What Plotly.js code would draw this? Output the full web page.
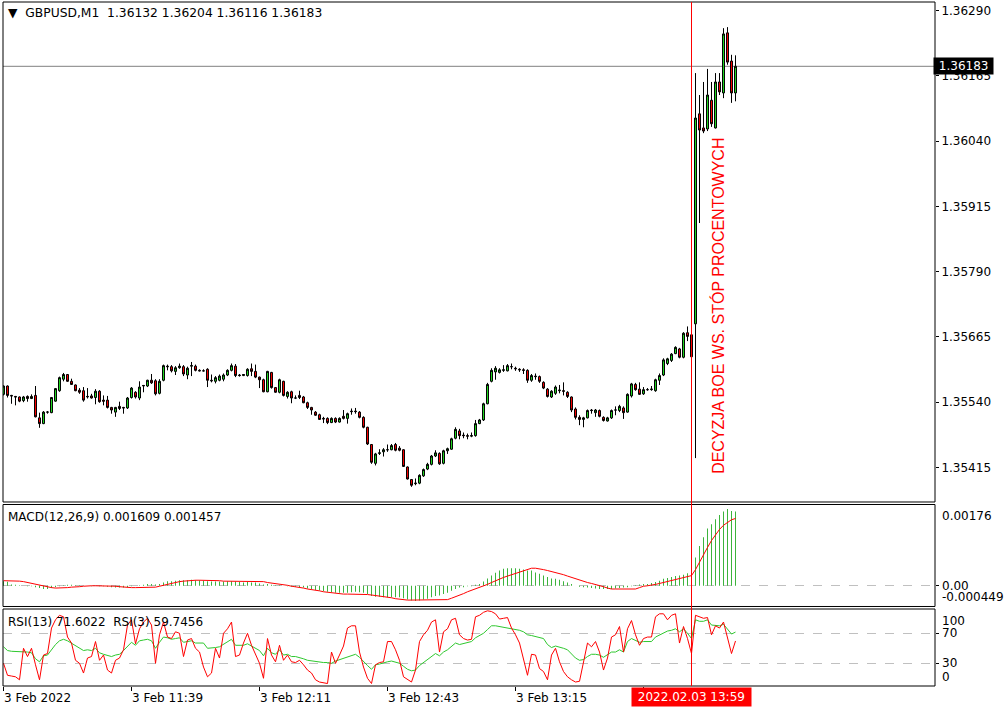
<!DOCTYPE html>
<html><head><meta charset="utf-8">
<script src="https://cdn.plot.ly/plotly-3.0.1.min.js"></script>
<style>html,body{margin:0;padding:0;background:#fff;overflow:hidden}#chart{width:1006px;height:713px}</style>
</head><body><div id="chart"></div>
<script>
const symbol = 'GBPUSD,M1';
const timeLabels = ['3 Feb 2022','3 Feb 11:39','3 Feb 12:11','3 Feb 12:43','3 Feb 13:15'];
const timeLabelBars = [0,32,64,96,128];
const extraTickBars = [160];
const eventBar = 172;
const eventLabel = '2022.02.03 13:59';
const eventText = 'DECYZJA BOE WS. STÓP PROCENTOWYCH';
const priceTicks = [1.36290,1.36165,1.36040,1.35915,1.35790,1.35665,1.35540,1.35415];
const macdScale = [-0.000449, 0.00176];
const rsiLevels = [30,70];

const open = [
1.35555,1.35571,1.35553,1.35551,1.35550,1.35543,1.35551,1.35547,1.35553,1.35510,
1.35499,1.35521,1.35520,1.35542,1.35562,1.35584,1.35593,1.35580,1.35573,1.35563,
1.35562,1.35550,1.35552,1.35549,1.35561,1.35544,1.35544,1.35530,1.35521,1.35532,
1.35530,1.35529,1.35549,1.35559,1.35548,1.35571,1.35571,1.35582,1.35581,1.35557,
1.35582,1.35609,1.35608,1.35599,1.35606,1.35608,1.35592,1.35609,1.35609,1.35601,
1.35600,1.35603,1.35582,1.35580,1.35582,1.35584,1.35592,1.35601,1.35609,1.35592,
1.35591,1.35591,1.35604,1.35599,1.35588,1.35583,1.35560,1.35597,1.35568,1.35559,
1.35580,1.35551,1.35560,1.35548,1.35553,1.35550,1.35539,1.35530,1.35521,1.35516,
1.35509,1.35509,1.35501,1.35509,1.35502,1.35513,1.35509,1.35523,1.35523,1.35521,
1.35511,1.35492,1.35459,1.35423,1.35442,1.35445,1.35449,1.35449,1.35459,1.35452,
1.35449,1.35416,1.35392,1.35384,1.35385,1.35399,1.35412,1.35421,1.35437,1.35442,
1.35423,1.35447,1.35450,1.35471,1.35485,1.35477,1.35476,1.35475,1.35476,1.35499,
1.35506,1.35537,1.35580,1.35598,1.35597,1.35601,1.35600,1.35608,1.35605,1.35603,
1.35602,1.35601,1.35582,1.35590,1.35589,1.35578,1.35565,1.35550,1.35557,1.35562,
1.35562,1.35559,1.35550,1.35527,1.35511,1.35507,1.35510,1.35525,1.35520,1.35524,
1.35511,1.35504,1.35510,1.35525,1.35524,1.35529,1.35521,1.35552,1.35574,1.35565,
1.35556,1.35564,1.35564,1.35562,1.35582,1.35592,1.35614,1.35620,1.35633,1.35642,
1.35626,1.35673,1.35669,1.35690,1.36092,1.36065,1.36063,1.36118,1.36065,1.36153,
1.36132,1.36247,1.36193,1.36132];
const high = [
1.35572,1.35572,1.35554,1.35552,1.35551,1.35552,1.35553,1.35555,1.35571,1.35520,
1.35523,1.35523,1.35550,1.35567,1.35589,1.35596,1.35594,1.35585,1.35574,1.35567,
1.35569,1.35567,1.35556,1.35565,1.35563,1.35553,1.35552,1.35531,1.35531,1.35541,
1.35531,1.35550,1.35569,1.35561,1.35580,1.35573,1.35583,1.35594,1.35584,1.35584,
1.35612,1.35612,1.35611,1.35609,1.35614,1.35611,1.35608,1.35617,1.35612,1.35603,
1.35603,1.35605,1.35593,1.35590,1.35593,1.35595,1.35603,1.35614,1.35613,1.35594,
1.35594,1.35605,1.35614,1.35612,1.35589,1.35585,1.35600,1.35598,1.35569,1.35585,
1.35581,1.35561,1.35562,1.35553,1.35562,1.35552,1.35541,1.35531,1.35523,1.35518,
1.35512,1.35511,1.35511,1.35511,1.35511,1.35525,1.35520,1.35528,1.35529,1.35523,
1.35513,1.35493,1.35460,1.35443,1.35450,1.35452,1.35459,1.35460,1.35462,1.35456,
1.35450,1.35417,1.35393,1.35394,1.35402,1.35413,1.35424,1.35439,1.35448,1.35444,
1.35449,1.35453,1.35472,1.35492,1.35489,1.35482,1.35480,1.35482,1.35506,1.35508,
1.35539,1.35577,1.35605,1.35609,1.35605,1.35611,1.35613,1.35614,1.35608,1.35605,
1.35605,1.35603,1.35594,1.35595,1.35591,1.35580,1.35567,1.35563,1.35572,1.35573,
1.35578,1.35561,1.35551,1.35530,1.35515,1.35512,1.35526,1.35527,1.35527,1.35526,
1.35513,1.35512,1.35526,1.35532,1.35535,1.35532,1.35557,1.35577,1.35577,1.35578,
1.35569,1.35567,1.35571,1.35585,1.35595,1.35624,1.35625,1.35634,1.35647,1.35644,
1.35674,1.35685,1.35671,1.36170,1.36128,1.36153,1.36178,1.36153,1.36170,1.36170,
1.36256,1.36258,1.36205,1.36204];
const low = [
1.35553,1.35549,1.35537,1.35534,1.35540,1.35540,1.35541,1.35546,1.35511,1.35491,
1.35498,1.35518,1.35519,1.35541,1.35560,1.35580,1.35579,1.35573,1.35561,1.35556,
1.35541,1.35547,1.35547,1.35536,1.35539,1.35534,1.35528,1.35518,1.35512,1.35525,
1.35518,1.35527,1.35547,1.35547,1.35544,1.35559,1.35569,1.35575,1.35553,1.35555,
1.35580,1.35601,1.35597,1.35592,1.35604,1.35590,1.35584,1.35590,1.35599,1.35599,
1.35599,1.35569,1.35578,1.35576,1.35580,1.35580,1.35590,1.35599,1.35588,1.35589,
1.35590,1.35589,1.35590,1.35586,1.35567,1.35559,1.35559,1.35566,1.35558,1.35557,
1.35551,1.35547,1.35538,1.35546,1.35546,1.35538,1.35527,1.35516,1.35514,1.35506,
1.35500,1.35498,1.35500,1.35500,1.35501,1.35507,1.35499,1.35516,1.35518,1.35509,
1.35490,1.35458,1.35422,1.35419,1.35439,1.35436,1.35445,1.35448,1.35446,1.35446,
1.35416,1.35392,1.35378,1.35381,1.35383,1.35397,1.35410,1.35419,1.35435,1.35420,
1.35421,1.35441,1.35449,1.35469,1.35469,1.35471,1.35469,1.35473,1.35474,1.35498,
1.35504,1.35536,1.35578,1.35583,1.35595,1.35598,1.35599,1.35603,1.35600,1.35598,
1.35594,1.35577,1.35579,1.35583,1.35577,1.35565,1.35549,1.35548,1.35554,1.35557,
1.35553,1.35548,1.35521,1.35507,1.35496,1.35492,1.35509,1.35518,1.35512,1.35511,
1.35503,1.35503,1.35508,1.35515,1.35521,1.35508,1.35520,1.35549,1.35562,1.35554,
1.35554,1.35562,1.35562,1.35560,1.35573,1.35590,1.35611,1.35617,1.35632,1.35624,
1.35624,1.35657,1.35626,1.35433,1.35883,1.36055,1.36059,1.36067,1.36064,1.36128,
1.36122,1.36186,1.36113,1.36116];
const close = [
1.35571,1.35553,1.35552,1.35550,1.35542,1.35550,1.35547,1.35551,1.35512,1.35499,
1.35521,1.35521,1.35549,1.35566,1.35587,1.35593,1.35580,1.35574,1.35562,1.35559,
1.35544,1.35551,1.35548,1.35561,1.35541,1.35542,1.35530,1.35525,1.35530,1.35528,
1.35529,1.35548,1.35567,1.35550,1.35569,1.35572,1.35582,1.35577,1.35556,1.35580,
1.35610,1.35608,1.35600,1.35606,1.35609,1.35594,1.35605,1.35610,1.35601,1.35600,
1.35600,1.35582,1.35581,1.35587,1.35590,1.35592,1.35601,1.35610,1.35591,1.35591,
1.35593,1.35603,1.35599,1.35588,1.35583,1.35560,1.35599,1.35568,1.35559,1.35583,
1.35553,1.35559,1.35548,1.35548,1.35549,1.35539,1.35530,1.35525,1.35515,1.35507,
1.35508,1.35501,1.35509,1.35502,1.35509,1.35509,1.35518,1.35522,1.35522,1.35511,
1.35492,1.35460,1.35425,1.35441,1.35443,1.35449,1.35449,1.35457,1.35448,1.35448,
1.35417,1.35393,1.35381,1.35385,1.35400,1.35411,1.35421,1.35437,1.35443,1.35422,
1.35447,1.35451,1.35470,1.35488,1.35476,1.35476,1.35475,1.35476,1.35499,1.35506,
1.35537,1.35574,1.35601,1.35605,1.35602,1.35602,1.35610,1.35608,1.35604,1.35602,
1.35601,1.35582,1.35591,1.35589,1.35580,1.35567,1.35551,1.35561,1.35569,1.35563,
1.35561,1.35551,1.35525,1.35511,1.35507,1.35510,1.35524,1.35524,1.35525,1.35513,
1.35505,1.35510,1.35524,1.35525,1.35532,1.35520,1.35555,1.35575,1.35564,1.35555,
1.35564,1.35564,1.35565,1.35583,1.35591,1.35621,1.35623,1.35632,1.35645,1.35626,
1.35672,1.35666,1.35627,1.36084,1.36061,1.36059,1.36128,1.36073,1.36153,1.36134,
1.36245,1.36191,1.36132,1.36183];

const macdMain = [
0.000096,0.000088,0.00003,0.00002,0.00001,0,-0.00001,-0.00001,-0.00003,-0.00005,
-0.00007,-0.00007,-0.00005,-0.00003,-0.00001,0.00001,0.00002,0.00002,0.00001,0.00001,
0,0,-0.00001,0,-0.00001,-0.00001,-0.00002,-0.00003,-0.00004,-0.00004,
-0.00004,-0.00003,-0.00001,0,0.00001,0.00002,0.00004,0.00004,0.00003,0.00004,
0.00007,0.0001,0.0001,0.00011,0.00012,0.00012,0.00012,0.00013,0.00012,0.00012,
0.00011,0.0001,0.00009,0.00009,0.00009,0.00009,0.0001,0.0001,0.00009,0.00008,
0.00007,0.00008,0.00007,0.00007,0.00005,0.00003,0.00004,0.00002,0.00001,0.00001,
0,-0.00001,-0.00002,-0.00002,-0.00003,-0.00004,-0.00006,-0.00007,-0.00009,-0.0001,
-0.00012,-0.00013,-0.00014,-0.00015,-0.00015,-0.00015,-0.00015,-0.00014,-0.00013,-0.00014,
-0.00015,-0.00018,-0.00022,-0.00024,-0.00024,-0.00025,-0.00025,-0.00025,-0.00025,-0.00025,
-0.00027,-0.0003,-0.00032,-0.00033,-0.00032,-0.0003,-0.00028,-0.00025,-0.00022,-0.00021,
-0.00018,-0.00015,-0.00011,-0.00007,-0.00004,-0.00003,-0.00001,-0.00001,0.00002,0.00004,
0.00009,0.00016,0.00022,0.00028,0.00033,0.00037,0.00038,0.00038,0.00038,0.00037,
0.00035,0.00033,0.00033,0.00029,0.00026,0.00022,0.00019,0.00016,0.00015,0.00013,
0.0001,0.00007,0.00004,0,-0.00002,-0.00003,-0.00004,-0.00005,-0.00006,-0.00007,
-0.00007,-0.00007,-0.00007,-0.00006,-0.00005,-0.00004,-0.00003,-0.00001,0.00001,0.00003,
0.00004,0.00004,0.00006,0.00008,0.00011,0.00015,0.00017,0.00019,0.00021,0.00022,
0.00024,0.00027,0.00026,0.00061,0.00086,0.00105,0.00124,0.00133,0.00144,0.00153,
0.00161,0.00166,0.00162,0.001609];
const macdSignal = [
0.00011,0.00011,0.00011,0.0001,0.0001,0.00009,0.00007,0.00006,0.00004,0.00001,
-0.00001,-0.00003,-0.00004,-0.00005,-0.00005,-0.00004,-0.00004,-0.00003,-0.00003,-0.00002,
-0.00001,0,0,0,0,0,0,-0.00001,-0.00001,-0.00002,
-0.00003,-0.00004,-0.00004,-0.00004,-0.00004,-0.00004,-0.00004,-0.00004,-0.00003,-0.00001,
0.00001,0.00004,0.00006,0.00007,0.00009,0.0001,0.00011,0.00012,0.00012,0.00012,
0.00012,0.00012,0.00012,0.00012,0.00011,0.0001,0.0001,0.0001,0.0001,0.0001,
0.0001,0.00009,0.00009,0.00009,0.00009,0.00009,0.00007,0.00006,0.00004,0.00004,
0.00002,0.00001,-0.00001,-0.00002,-0.00004,-0.00005,-0.00007,-0.00008,-0.0001,-0.00011,
-0.00013,-0.00014,-0.00015,-0.00017,-0.00018,-0.00018,-0.00018,-0.00018,-0.00018,-0.00018,
-0.00018,-0.00019,-0.0002,-0.00021,-0.00023,-0.00024,-0.00025,-0.00026,-0.00028,-0.00029,
-0.00031,-0.00031,-0.00031,-0.00031,-0.00031,-0.00031,-0.00031,-0.00031,-0.00031,-0.00031,
-0.00031,-0.0003,-0.00027,-0.00024,-0.0002,-0.00017,-0.00013,-0.0001,-0.00006,-0.00003,
0,0.00003,0.00007,0.00011,0.00015,0.00018,0.00021,0.00024,0.00026,0.00029,
0.00033,0.00036,0.00038,0.00038,0.00037,0.00035,0.00033,0.00031,0.00029,0.00026,
0.00024,0.00021,0.00018,0.00015,0.00012,0.0001,0.00007,0.00005,0.00003,0.00001,
-0.00002,-0.00005,-0.00007,-0.00007,-0.00007,-0.00007,-0.00007,-0.00007,-0.00007,-0.00004,
-0.00001,0,0.00001,0.00003,0.00005,0.00007,0.0001,0.00012,0.00013,0.00015,
0.00018,0.0002,0.00022,0.00035,0.00052,0.00069,0.00083,0.00098,0.0011,0.00122,
0.00131,0.00138,0.00143,0.001457];

const rsi13 = [
52,47,46,46,45,46,45,44,36,32,
40,41,48,55,60,62,60,57,53,51,
47,48,47,50,44,42,40,39,41,42,
47,52,58,54,60,61,62,60,50,58,
65,64,62,63,64,58,59,60,57,57,
57,50,50,51,52,55,58,62,54,54,
54,56,53,50,47,40,50,44,42,48,
41,42,39,39,38,36,34,33,32,31,
31,31,30,33,35,37,38,41,42,38,
32,27,22,28,29,31,32,33,31,30,
26,22,20,21,27,31,35,40,43,40,
45,48,53,57,55,56,57,59,64,67,
70,75,80,80,79,79,78,77,76,74,
72,68,67,66,65,63,55,51,53,52,
50,48,43,37,34,35,39,42,42,41,
38,41,45,45,48,45,59,63,61,58,
59,59,59,65,68,71,73,74,76,72,
76,70,63,88,86,86,88,81,81,80,
82,76,69,71.6022];
const rsi3 = [
30,14,13,12,8,50,39,50,28,8,
41,43,77,88,94,92,65,57,34,30,
17,37,39,59,34,41,21,17,34,37,
48,81,88,56,76,85,90,81,30,68,
85,65,63,72,70,39,61,63,50,45,
25,12,17,50,37,70,76,85,39,41,
57,70,54,41,30,10,63,41,32,54,
34,41,32,31,34,28,21,17,8,5,
4,3,45,30,41,53,77,80,80,45,
25,10,3,28,31,32,59,59,48,34,
12,8,5,21,59,68,74,85,88,45,
72,76,88,90,68,63,61,62,92,94,
98,100,99,96,89,90,91,77,68,57,
34,14,42,41,23,19,8,41,50,32,
19,12,8,5,6,32,57,52,59,45,
21,37,65,68,79,45,76,87,68,54,
63,65,65,92,96,96,88,94,96,57,
79,63,43,94,92,90,91,68,80,77,
85,63,43,59.7456];

const bars = open.map((_, i) => i);
const n = close.length - 1;
const lastClose = close[n];
const NB = '\u00a0';
const FONT = 'DejaVu Sans';

const traces = [
  {type:'candlestick', x:bars, open:open, high:high, low:low, close:close,
   xaxis:'x', yaxis:'y', whiskerwidth:0, hoverinfo:'skip',
   increasing:{line:{color:'#000000', width:1}, fillcolor:'#22e022'},
   decreasing:{line:{color:'#000000', width:1}, fillcolor:'#ff0000'}},
  {type:'bar', x:bars, y:macdMain, xaxis:'x', yaxis:'y2', width:0.25,
   marker:{color:'#3cb43c', line:{width:0}}, hoverinfo:'skip'},
  {type:'scatter', mode:'lines', x:bars, y:macdSignal, xaxis:'x', yaxis:'y2',
   line:{color:'#ff0000', width:1}, hoverinfo:'skip'},
  {type:'scatter', mode:'lines', x:bars, y:rsi13, xaxis:'x', yaxis:'y3',
   line:{color:'#2ec82e', width:1}, hoverinfo:'skip'},
  {type:'scatter', mode:'lines', x:bars, y:rsi3, xaxis:'x', yaxis:'y3',
   line:{color:'#ff0000', width:1}, hoverinfo:'skip'}
];

function rightLabel(text, yref, y, yanchor, yshift) {
  return {xref:'paper', x:1, xanchor:'left', xshift:5, yref:yref, y:y, yanchor:yanchor, yshift:yshift||0,
          text:text, showarrow:false, font:{family:FONT, size:12, color:'#000'}, borderpad:1};
}

const annotations = [
  {xref:'paper', x:0, xanchor:'left', xshift:3, yref:'paper', y:1, yanchor:'top', yshift:-2,
   text:'▼' + NB + NB + symbol + NB + NB + open[n].toFixed(5) + ' ' + high[n].toFixed(5) + ' ' + low[n].toFixed(5) + ' ' + close[n].toFixed(5),
   showarrow:false, font:{family:FONT, size:12.3, color:'#000'}},
  {xref:'paper', x:0, xanchor:'left', xshift:3, yref:'y2 domain', y:1, yanchor:'top', yshift:-3,
   text:'MACD(12,26,9) ' + macdMain[n].toFixed(6) + ' ' + macdSignal[n].toFixed(6),
   showarrow:false, font:{family:FONT, size:12, color:'#000'}},
  {xref:'paper', x:0, xanchor:'left', xshift:3, yref:'y3 domain', y:1, yanchor:'top', yshift:-4,
   text:'RSI(13) ' + rsi13[n].toFixed(4) + NB + NB + 'RSI(3) ' + rsi3[n].toFixed(4),
   showarrow:false, font:{family:FONT, size:12, color:'#000'}},
  rightLabel(macdScale[1].toFixed(5), 'y2 domain', 1, 'top', -2),
  rightLabel('0.00', 'y2', 0, 'middle', 0),
  rightLabel(macdScale[0].toFixed(6), 'y2 domain', 0, 'bottom', 0),
  rightLabel('100', 'y3 domain', 1, 'top', -3),
  rightLabel(String(rsiLevels[1]), 'y3', rsiLevels[1], 'middle', 0),
  rightLabel(String(rsiLevels[0]), 'y3', rsiLevels[0], 'middle', 0),
  rightLabel('0', 'y3 domain', 0, 'bottom', 0),
  {xref:'paper', x:1, xanchor:'left', xshift:-2, yref:'y', y:lastClose, yanchor:'middle',
   text:NB + lastClose.toFixed(5) + NB, showarrow:false, bgcolor:'#000000', borderpad:1,
   font:{family:FONT, size:12, color:'#ffffff'}},
  {xref:'x', x:eventBar, xanchor:'center', yref:'paper', y:0, yanchor:'top', yshift:-1,
   text:NB + eventLabel + NB, showarrow:false, bgcolor:'#ff0000', borderpad:2,
   font:{family:FONT, size:12, color:'#ffffff'}},
  {xref:'x', x:178.6, yref:'y', y:1.357242, textangle:-90, text:eventText, showarrow:false,
   font:{family:'Liberation Sans', size:16, color:'#ff0000'}}
];
timeLabels.forEach((t, k) => {
  annotations.push({xref:'x', x:timeLabelBars[k], xanchor:'left', xshift:-1.5, yref:'paper', y:0, yanchor:'top', yshift:-3,
    text:t, showarrow:false, font:{family:FONT, size:12, color:'#000'}});
});

const shapes = [
  {type:'line', xref:'paper', x0:0, x1:1, yref:'y', y0:lastClose, y1:lastClose, line:{color:'#808080', width:1}, layer:'below'},
  {type:'rect', xref:'paper', x0:0, x1:1, yref:'y domain', y0:0, y1:1, line:{color:'#000', width:1}, fillcolor:'rgba(0,0,0,0)', layer:'above'},
  {type:'rect', xref:'paper', x0:0, x1:1, yref:'y2 domain', y0:0, y1:1, line:{color:'#000', width:1}, fillcolor:'rgba(0,0,0,0)', layer:'above'},
  {type:'rect', xref:'paper', x0:0, x1:1, yref:'y3 domain', y0:0, y1:1, line:{color:'#000', width:1}, fillcolor:'rgba(0,0,0,0)', layer:'above'},
  {type:'line', xref:'x', x0:eventBar, x1:eventBar, yref:'paper', y0:0, y1:1, line:{color:'#ff0000', width:1}, layer:'above'}
];

const layout = {
  width:1006, height:713,
  margin:{l:3, r:71, t:2, b:27, pad:0},
  paper_bgcolor:'#ffffff', plot_bgcolor:'#ffffff',
  showlegend:false, hovermode:false,
  font:{family:FONT, size:12, color:'#000'},
  xaxis:{range:[-0.125, 232.875], anchor:'y3', showgrid:false, zeroline:false, showline:false,
         tickvals:timeLabelBars.concat(extraTickBars), ticks:'outside', ticklen:4, tickcolor:'#000',
         showticklabels:false, rangeslider:{visible:false}, fixedrange:true},
  yaxis:{domain:[0.26901,1], range:[1.3534896,1.3630608], side:'right', anchor:'x',
         tickvals:priceTicks, tickformat:'.5f', ticks:'outside', ticklen:3, tickcolor:'#000',
         showgrid:false, zeroline:false, showline:false, tickfont:{family:FONT, size:12, color:'#000'}},
  yaxis2:{domain:[0.11623,0.26535], range:macdScale, side:'right', anchor:'x',
          tickvals:[0], showticklabels:false, ticks:'outside', ticklen:3, tickcolor:'#000',
          showgrid:true, gridcolor:'#c0c0c0', griddash:'dash', gridwidth:1, zeroline:false, showline:false},
  yaxis3:{domain:[0,0.11257], range:[-0.3,102.4], side:'right', anchor:'x',
          tickvals:rsiLevels, showticklabels:false, ticks:'outside', ticklen:3, tickcolor:'#000',
          showgrid:true, gridcolor:'#c0c0c0', griddash:'dash', gridwidth:1, zeroline:false, showline:false},
  shapes:shapes, annotations:annotations
};

Plotly.newPlot('chart', traces, layout, {staticPlot:true, displayModeBar:false});
</script>
</body></html>
